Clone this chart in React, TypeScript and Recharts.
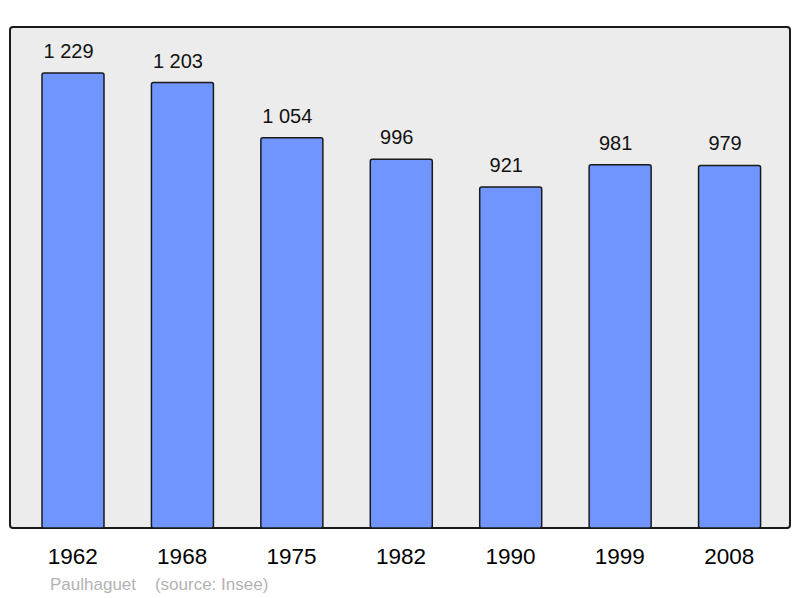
import React from "react";
import { BarChart, Bar, XAxis, YAxis, CartesianGrid, LabelList, usePlotArea } from "recharts";

const years = ["1962", "1968", "1975", "1982", "1990", "1999", "2008"];
const population = [1229, 1203, 1054, 996, 921, 981, 979];
const valueLabels = ["1 229", "1 203", "1 054", "996", "921", "981", "979"];

const data = years.map((y, i) => ({ year: y, pop: population[i], label: valueLabels[i] }));

const FONT = "'Liberation Sans', Arial, sans-serif";

function Frame() {
  const area = usePlotArea();
  if (!area) return null;
  return (
    <rect
      x={area.x}
      y={area.y}
      width={area.width}
      height={area.height}
      rx={3}
      ry={3}
      fill="none"
      stroke="#1a1a1a"
      strokeWidth={2}
    />
  );
}

function Footer() {
  return (
    <text x={50} y={590} fontFamily={FONT} fontSize={17} fill="#b3b3b3" style={{ whiteSpace: "pre" }}>
      {"Paulhaguet    (source: Insee)"}
    </text>
  );
}

export default function App() {
  return (
    <div style={{ position: "absolute", left: 0, top: 0, width: 800, height: 598, background: "#fff" }}>
      <BarChart
        width={800}
        height={598}
        data={data}
        margin={{ top: 27, right: 10, bottom: 0, left: 10 }}
      >
        <CartesianGrid horizontal={false} vertical={false} fill="#ececec" />
        <YAxis hide domain={[0, 1353]} />
        <XAxis
          dataKey="year"
          height={70}
          axisLine={false}
          tickLine={false}
          tickMargin={14}
          padding={{ left: 8, right: 6 }}
          tick={{ fontSize: 22.5, fill: "#000", fontFamily: FONT }}
          interval={0}
        />
        <Bar
          dataKey="pop"
          fill="#7095ff"
          stroke="#1a1a1a"
          strokeWidth={1.5}
          barSize={62}
          radius={2}
          isAnimationActive={false}
        >
          <LabelList
            dataKey="label"
            position="top"
            offset={15}
            dx={-4.5}
            style={{ fontSize: 20, fill: "#111", fontFamily: FONT }}
          />
        </Bar>
        <Frame />
        <Footer />
      </BarChart>
    </div>
  );
}
